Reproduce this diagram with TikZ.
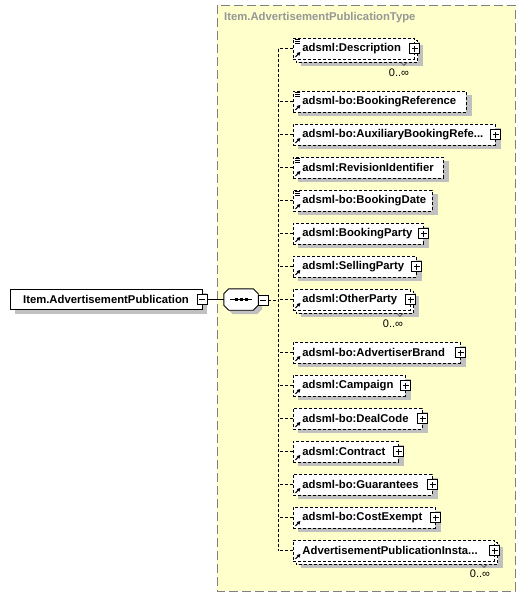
\documentclass[tikz,border=0pt]{standalone}
\usepackage{fontspec}
\setmainfont{Liberation Sans}
\usetikzlibrary{arrows.meta}
\definecolor{bgyellow}{RGB}{255,255,204}
\definecolor{framegray}{RGB}{128,128,128}
\definecolor{titlegray}{RGB}{150,150,150}
\definecolor{shadowc}{RGB}{192,192,192}
\pgfdeclarelayer{bglayer}
\pgfdeclarelayer{shadowlayer}
\pgfdeclarelayer{backlayer}
\pgfsetlayers{bglayer,shadowlayer,backlayer,main}
\newcommand\efont{\bfseries\fontsize{11.3}{13}\selectfont}
\newcommand\mfont{\fontsize{11}{12}\selectfont}
\newcommand\plusmark[1]{\draw[line width=1pt] ([xshift=-3pt]#1.center) -- ([xshift=3pt]#1.center); \draw[line width=1pt] ([yshift=-3pt]#1.center) -- ([yshift=3pt]#1.center);}
\newcommand\minusmark[1]{\draw[line width=1pt] ([xshift=-3pt]#1.center) -- ([xshift=3pt]#1.center);}
\newcommand\docicon[1]{\foreach \k in {1.5,3.5,5.5} {\draw[line width=0.8pt] ([xshift=2pt,yshift=-\k pt]#1.north west) -- ([xshift=7pt,yshift=-\k pt]#1.north west);}}
\newcommand\refarrow[1]{\draw[line width=1.1pt,-{Triangle[length=3.5pt,width=3.5pt]}] ([xshift=2.5pt,yshift=2.5pt]#1.south west) -- ([xshift=7.5pt,yshift=7.5pt]#1.south west);}
\newcommand\backbox[1]{\begin{pgfonlayer}{backlayer}\draw[elemline,fill=white] ([xshift=3pt,yshift=-3pt]#1.north west) rectangle ([xshift=3pt,yshift=-3pt]#1.south east);\end{pgfonlayer}
\begin{pgfonlayer}{shadowlayer}\fill[shadowc] ([xshift=8pt,yshift=-7pt]#1.north west) rectangle ([xshift=8pt,yshift=-7pt]#1.south east);\end{pgfonlayer}
\draw[line width=0.6pt, draw=black!70] ([xshift=-14pt,yshift=-3pt]#1.south east) -- ([xshift=-11pt,yshift=-6pt]#1.south east) -- ([xshift=-8pt,yshift=-3pt]#1.south east);}
\tikzset{
  elemline/.style={draw, line width=0.9pt, dash pattern=on 3pt off 2pt},
  elem/.style={elemline, fill=white, anchor=west, minimum height=21pt, inner xsep=0pt, inner ysep=0pt, align=left, font=\efont, text width=#1},
  expbox/.style={draw, solid, line width=0.9pt, fill=white, minimum size=10pt, inner sep=0pt},
  tree/.style={line width=0.9pt, dash pattern=on 3pt off 2pt},
  mult/.style={font=\mfont, inner sep=0pt}
}
\begin{document}
\begin{tikzpicture}[x=1pt,y=-1pt]
\useasboundingbox (0,0) rectangle (526,598);
\begin{pgfonlayer}{bglayer}
\draw[fill=bgyellow, draw=framegray, line width=1pt, dash pattern=on 9pt off 4pt] (217,5) rectangle (515,591);
\end{pgfonlayer}
\node[anchor=west, text=titlegray, font=\efont, inner sep=0pt] (title) at (224,18) {Item.AdvertisementPublicationType};

% root
\node[draw, line width=0.9pt, fill=white, minimum width=192pt, minimum height=20pt, inner sep=0pt, font=\efont] (root) at (106,299.5) {Item.AdvertisementPublication};
\node[expbox] (rootm) at (root.east) {};
\minusmark{rootm}

% sequence
\node[minimum width=34pt, minimum height=21pt, inner sep=0pt] (seq) at (241,299.5) {};
\begin{pgfonlayer}{shadowlayer}
\fill[shadowc] ([xshift=9pt,yshift=-4pt]seq.north west) -- ([xshift=-1pt,yshift=-4pt]seq.north east) -- ([xshift=4pt,yshift=-9pt]seq.north east) -- ([xshift=4pt,yshift=1pt]seq.south east) -- ([xshift=-1pt,yshift=-4pt]seq.south east) -- ([xshift=9pt,yshift=-4pt]seq.south west) -- ([xshift=4pt,yshift=1pt]seq.south west) -- ([xshift=4pt,yshift=-9pt]seq.north west) -- cycle;
\end{pgfonlayer}
\draw[line width=0.9pt, fill=white] ([xshift=5pt]seq.north west) -- ([xshift=-5pt]seq.north east) -- ([yshift=-5pt]seq.north east) -- ([yshift=5pt]seq.south east) -- ([xshift=-5pt]seq.south east) -- ([xshift=5pt]seq.south west) -- ([yshift=5pt]seq.south west) -- ([yshift=-5pt]seq.north west) -- cycle;
\draw[line width=1pt] ([xshift=-11pt]seq.center) -- ([xshift=11pt]seq.center);
\foreach \d in {-5,0,5} {\fill ([xshift=\d pt]seq.center) ++(-1.5pt,-1.5pt) rectangle ++(3pt,3pt);}
\node[expbox] (seqm) at (263,300) {};
\minusmark{seqm}
\draw[line width=0.9pt] (rootm.east) -- (seq.west);

% elements
\node[elem=121pt] (e1) at (293,48.5) {\hspace*{9pt}\mbox{adsml:Description}};
\node[elem=173pt] (e2) at (293,101.5) {\hspace*{9pt}\mbox{adsml-bo:BookingReference}};
\node[elem=202pt] (e3) at (293,134.5) {\hspace*{9pt}\mbox{adsml-bo:AuxiliaryBookingRefe...}};
\node[elem=150pt] (e4) at (293,167.5) {\hspace*{9pt}\mbox{adsml:RevisionIdentifier}};
\node[elem=139pt] (e5) at (293,200.5) {\hspace*{9pt}\mbox{adsml-bo:BookingDate}};
\node[elem=130pt] (e6) at (293,233.5) {\hspace*{9pt}\mbox{adsml:BookingParty}};
\node[elem=123pt] (e7) at (293,266.5) {\hspace*{9pt}\mbox{adsml:SellingParty}};
\node[elem=117pt] (e8) at (293,299.5) {\hspace*{9pt}\mbox{adsml:OtherParty}};
\node[elem=167pt] (e9) at (293,352.5) {\hspace*{9pt}\mbox{adsml-bo:AdvertiserBrand}};
\node[elem=112pt] (e10) at (293,385.5) {\hspace*{9pt}\mbox{adsml:Campaign}};
\node[elem=129pt] (e11) at (293,418.5) {\hspace*{9pt}\mbox{adsml-bo:DealCode}};
\node[elem=105pt] (e12) at (293,451.5) {\hspace*{9pt}\mbox{adsml:Contract}};
\node[elem=139pt] (e13) at (293,484.5) {\hspace*{9pt}\mbox{adsml-bo:Guarantees}};
\node[elem=142pt] (e14) at (293,517.5) {\hspace*{9pt}\mbox{adsml-bo:CostExempt}};
\node[elem=201pt] (e15) at (293,550.5) {\hspace*{9pt}\mbox{AdvertisementPublicationInsta...}};

\backbox{e1}
\backbox{e8}
\backbox{e15}

\begin{pgfonlayer}{shadowlayer}
\foreach \n in {root,e1,e2,e3,e4,e5,e6,e7,e8,e9,e10,e11,e12,e13,e14,e15} {
  \fill[shadowc] ([xshift=5pt,yshift=-4pt]\n.north west) rectangle ([xshift=5pt,yshift=-4pt]\n.south east);
}
\end{pgfonlayer}

\foreach \n in {e1,e2,e3,e4,e5,e6,e7,e8,e9,e10,e11,e12,e13,e14,e15} {\refarrow{\n}}
\foreach \n in {e1,e2,e4,e5} {\docicon{\n}}
\foreach \n in {e1,e3,e6,e7,e8,e9,e10,e11,e12,e13,e14,e15} {
  \node[expbox] (\n p) at (\n.east) {};
  \plusmark{\n p}
}

% multiplicities
\node[mult] (m1) at (399,73) {0..∞};
\node[mult] (m8) at (393,324) {0..∞};
\node[mult] (m15) at (480,574) {0..∞};

% tree
\coordinate (ttop) at (278,48.5);
\coordinate (tbot) at (278,550.5);
\coordinate (trunk) at (278,300);
\draw[tree] (ttop) -- (tbot);
\draw[tree] (seqm.east) -- (trunk);
\foreach \n in {e1,e2,e3,e4,e5,e6,e7,e8,e9,e10,e11,e12,e13,e14,e15} {
  \draw[tree] (\n.west) -- (\n.west -| ttop);
}
\end{tikzpicture}
\end{document}
